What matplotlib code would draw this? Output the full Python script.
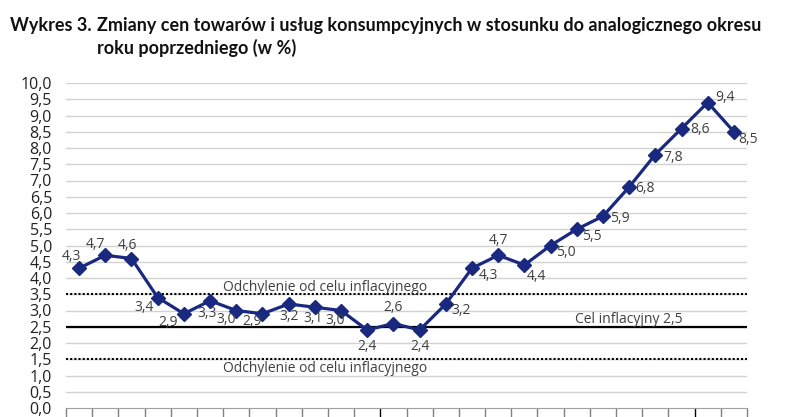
import matplotlib.pyplot as plt
import numpy as np

# CPI y/y, % (26 kolejnych miesięcy)
values = [4.3, 4.7, 4.6, 3.4, 2.9, 3.3, 3.0, 2.9, 3.2, 3.1, 3.0, 2.4, 2.6,
          2.4, 3.2, 4.3, 4.7, 4.4, 5.0, 5.5, 5.9, 6.8, 7.8, 8.6, 9.4, 8.5]
target = 2.5
band_hi = 3.5
band_lo = 1.5

# label offsets in pixels (dx, dy), style only
offs = [(-8, 12), (-10, 11), (-4, 13), (-14, -10), (-16, -9), (-3, -13),
        (-10, -9), (-10, -8), (0, -12), (-2, -11), (-6, -10), (0, -16),
        (0, 16), (0, -16), (15, -7), (16, -7), (0, 15), (12, -12),
        (15, -7), (15, -7), (17, -2), (16, -1), (18, -3), (18, -1),
        (17, 5), (14, -8)]

navy = '#1a2980'
plt.rcParams['font.family'] = ['Open Sans', 'DejaVu Sans']

fig = plt.figure(figsize=(7.91, 4.17), dpi=100)
ax = fig.add_axes([66/791, 9/417, (747-66)/791, (408-83)/417])

x = np.arange(len(values))
ax.set_xlim(-0.5, len(values) - 0.5)
ax.set_ylim(0, 10)

for y in np.arange(0.5, 10.01, 0.5):
    ax.axhline(y, color='#d2d2d2', lw=1, zorder=0)

ax.axhline(target, color='black', lw=1.6, zorder=1)
ax.axhline(band_hi, color='black', lw=1.5, ls=(0, (1, 1)), zorder=1)
ax.axhline(band_lo, color='black', lw=1.5, ls=(0, (1, 1)), zorder=1)

ax.plot(x, values, color=navy, lw=2.3, marker='D', ms=7.5, zorder=3)

for xi, v, (dx, dy) in zip(x, values, offs):
    ax.annotate(f'{v:.1f}'.replace('.', ','), (xi, v), xytext=(dx, dy),
                textcoords='offset pixels', ha='center', va='center',
                fontsize=10, color='#404040', zorder=4)

ax.text(9.4, 3.72, 'Odchylenie od celu inflacyjnego', ha='center', va='center',
        fontsize=10, color='#404040')
ax.text(9.4, 1.23, 'Odchylenie od celu inflacyjnego', ha='center', va='center',
        fontsize=10, color='#404040')
ax.text(21.0, 2.71, 'Cel inflacyjny 2,5', ha='center', va='center',
        fontsize=10, color='#404040')

ax.set_yticks(np.arange(0, 10.01, 0.5))
ax.set_yticklabels([f'{t:.1f}'.replace('.', ',') for t in np.arange(0, 10.01, 0.5)],
                   fontsize=11.5, color='#222222')
ax.tick_params(axis='y', length=0, pad=10)

ax.set_xticks(np.arange(-0.5, len(values), 1), minor=True)
ax.set_xticks([11.5, 23.5])
ax.set_xticklabels([])
ax.tick_params(axis='x', which='minor', length=8, color='#808080', width=1)
ax.tick_params(axis='x', which='major', length=25, color='black', width=1)

for s in ['left', 'right', 'top']:
    ax.spines[s].set_visible(False)
ax.spines['bottom'].set_color('#a0a0a0')

fig.text(10/791, 1 - 25/417, 'Wykres 3.', fontsize=13, fontweight='bold',
         family='Lato', va='center', color='#111111')
fig.text(97/791, 1 - 25/417,
         'Zmiany cen towarów i usług konsumpcyjnych w stosunku do analogicznego okresu',
         fontsize=13, fontweight='bold', family='Lato', va='center', color='#111111')
fig.text(97/791, 1 - 48/417, 'roku poprzedniego (w %)', fontsize=13,
         fontweight='bold', family='Lato', va='center', color='#111111')

fig.savefig('out.png', dpi=100)
